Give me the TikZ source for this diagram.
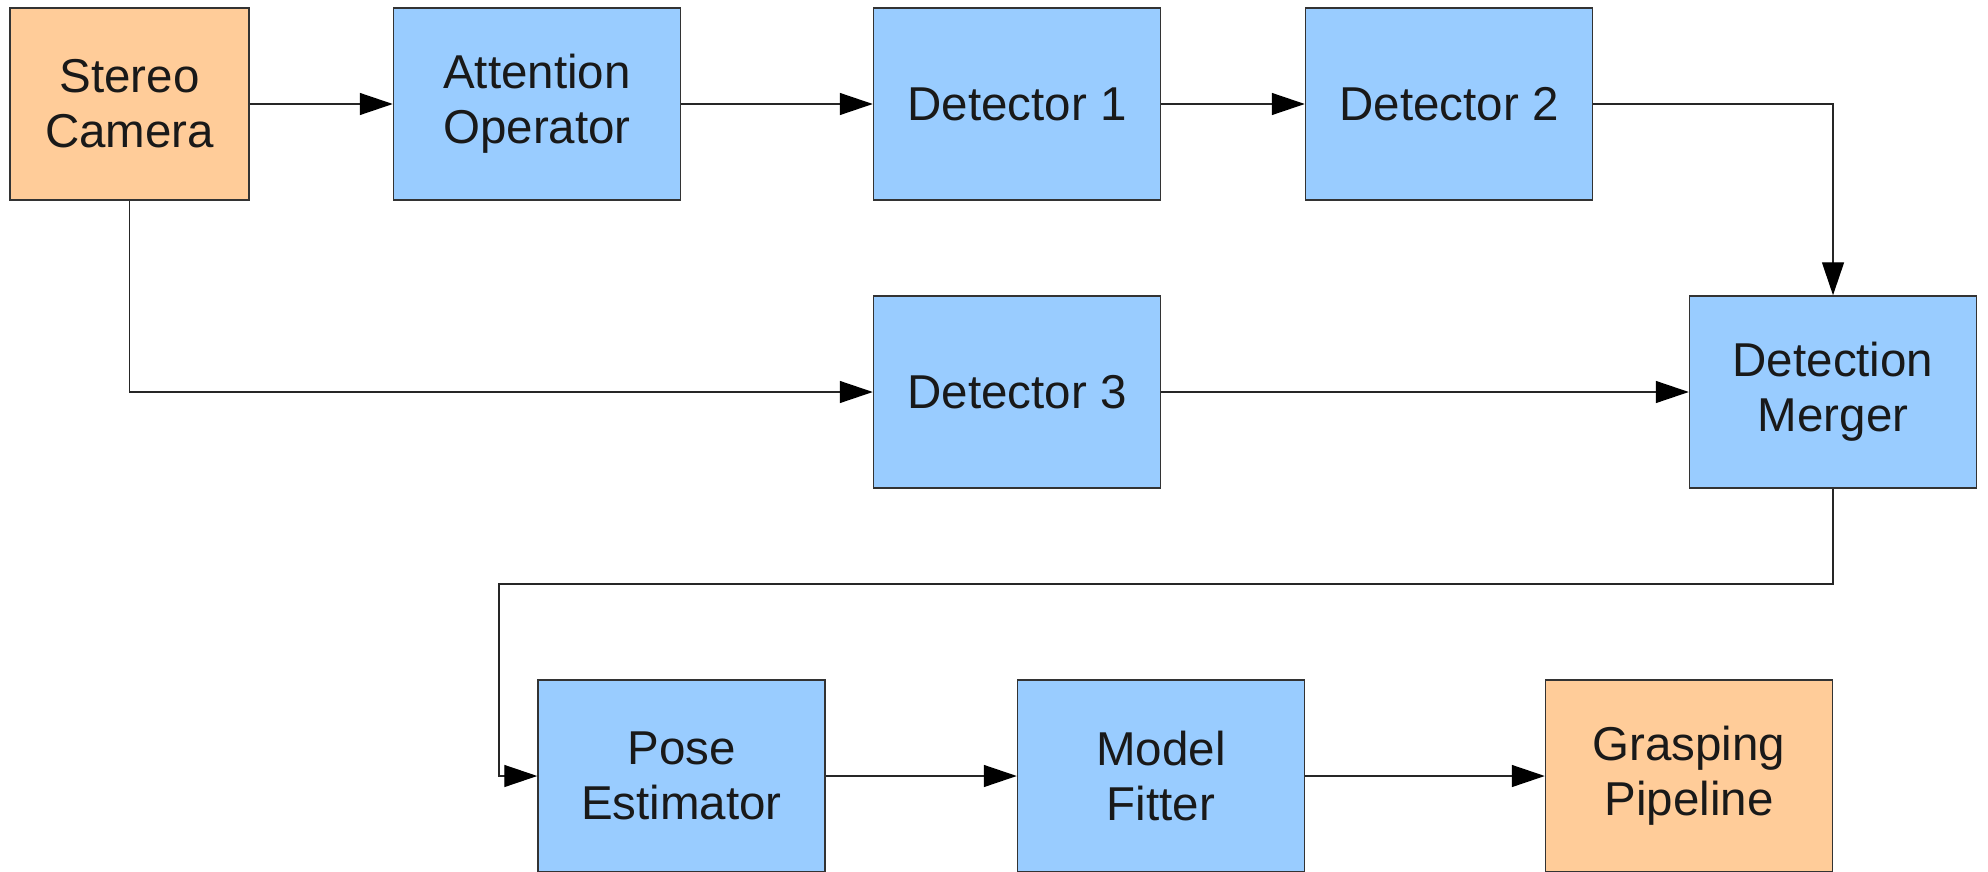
\documentclass[tikz,border=0pt]{standalone}
\usepackage{fontspec}
\setmainfont{Liberation Sans}
\usetikzlibrary{arrows.meta}
\definecolor{boxblue}{HTML}{99CCFF}
\definecolor{boxorange}{HTML}{FFCC99}
\definecolor{edgegray}{HTML}{333333}
\tikzset{
  block/.style={draw=edgegray, line width=1.5pt, fill=boxblue, minimum width=287pt, minimum height=192pt, inner sep=0pt, align=center, font=\fontsize{47.5}{55}\selectfont, text=black!90},
  ioblock/.style={block, fill=boxorange},
  conn/.style={draw=black!85, line width=1.4pt, -{Triangle[length=33pt,width=22pt,color=black]}}
}
\begin{document}
\begin{tikzpicture}[x=1pt,y=-1pt]
\useasboundingbox (0,0) rectangle (1988,872);
\node[ioblock, minimum width=239pt] (cam) at (129.5,104) {Stereo\\Camera};
\node[block] (att) at (537,104) {Attention\\Operator};
\node[block] (d1) at (1017,104) {Detector 1};
\node[block] (d2) at (1449,104) {Detector 2};
\node[block] (d3) at (1017,392) {Detector 3};
\node[block] (mer) at (1833,392) {Detection\\Merger};
\node[block] (pose) at (681.5,776) {Pose\\Estimator};
\node[block] (fit) at (1161,776) {Model\\Fitter};
\node[ioblock] (grasp) at (1689,776) {Grasping\\Pipeline};
\coordinate (k1) at (499,584);
\draw[conn] (cam.east) -- (att.west);
\draw[conn] (att.east) -- (d1.west);
\draw[conn] (d1.east) -- (d2.west);
\draw[conn] (d2.east) -| (mer.north);
\draw[conn] (cam.south) |- (d3.west);
\draw[conn] (d3.east) -- (mer.west);
\draw[conn] (mer.south) |- (k1) |- (pose.west);
\draw[conn] (pose.east) -- (fit.west);
\draw[conn] (fit.east) -- (grasp.west);
\end{tikzpicture}
\end{document}
